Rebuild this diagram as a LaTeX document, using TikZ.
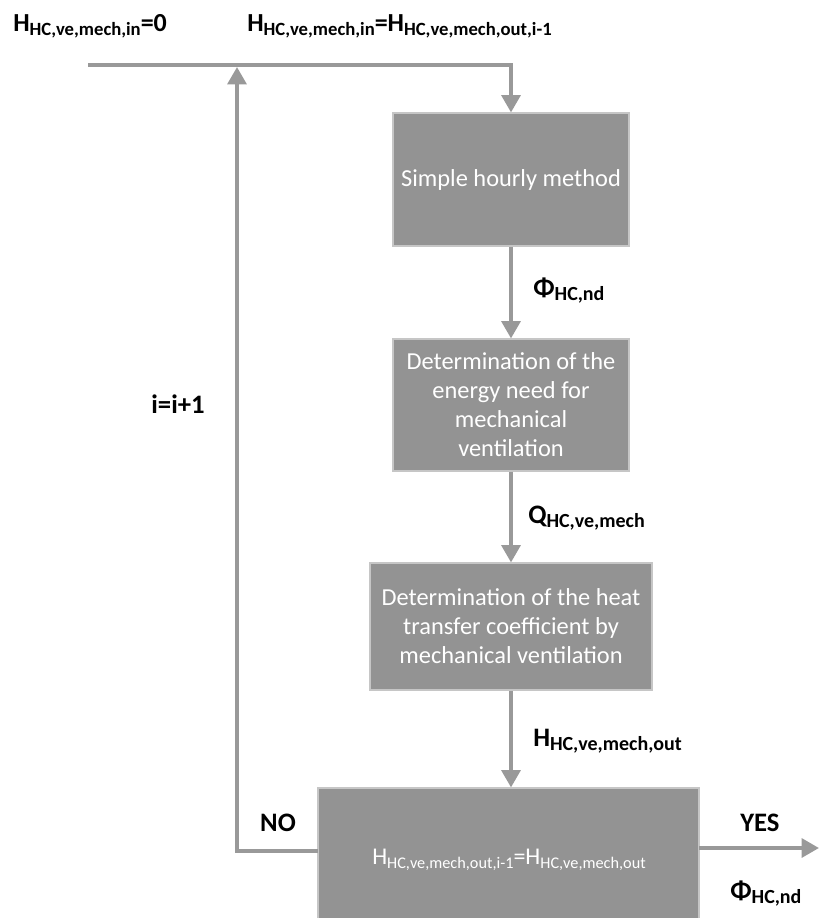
\documentclass[tikz,border=0pt]{standalone}
\usepackage{fontspec}
\setmainfont{Carlito}
\usetikzlibrary{arrows.meta}
\definecolor{boxfill}{HTML}{939393}
\definecolor{boxedge}{HTML}{C6C6C6}
\definecolor{linegray}{HTML}{999999}
\newcommand{\blab}[2]{{\fontsize{20}{24}\selectfont\bfseries #1}\raisebox{-3pt}{\fontsize{15}{18}\selectfont\bfseries #2}}
\newcommand{\tlab}[2]{{\fontsize{19.5}{24}\selectfont\bfseries #1}\raisebox{-3pt}{\fontsize{14}{17}\selectfont\bfseries #2}}
\newcommand{\rlab}[2]{{\fontsize{18}{22}\selectfont #1}\raisebox{-3pt}{\fontsize{12.2}{15}\selectfont #2}}
\tikzset{
  flowbox/.style={draw=boxedge, line width=0.8pt, fill=boxfill, text=white, align=center,
    font=\fontsize{18.3}{21.75}\selectfont, inner sep=0pt},
  conn/.style={draw=linegray, line width=3pt},
  arr/.style={conn, -{Triangle[width=14pt,length=13pt]}},
  lab/.style={inner sep=0pt, anchor=west, text=black},
}
\begin{document}
\begin{tikzpicture}[x=0.75pt, y=-0.75pt]
\useasboundingbox (0,0) rectangle (819,918);
\clip (0,0) rectangle (819,918);
\fill[white] (0,0) rectangle (819,918);

\node[flowbox, minimum width=177pt, minimum height=99.75pt] (b1) at (511,179.5) {Simple hourly method};
\node[flowbox, minimum width=177pt, minimum height=99pt] (b2) at (511,405) {Determination of the\\energy need for\\mechanical\\ventilation};
\node[flowbox, minimum width=211.5pt, minimum height=95.25pt] (b3) at (511,626.5) {Determination of the heat\\transfer coefficient by\\mechanical ventilation};
\node[flowbox, minimum width=285.75pt, minimum height=120pt] (b4) at (508.5,868) {};
\node[inner sep=0pt, text=white] (b4t) at (509,860) {\rlab{H}{HC,ve,mech,out,i-1}\rlab{=H}{HC,ve,mech,out}};

\coordinate (tl) at (88,65);
\coordinate (lc) at (237,851);
\coordinate (loopstart) at (318,851);
\coordinate (yesend) at (819,848);
\coordinate (yesstart) at (699,848);

\draw[arr] (tl) -- (b1.north |- tl) -- (b1.north);
\draw[arr] (b1.south) -- (b2.north);
\draw[arr] (b2.south) -- (b3.north);
\draw[arr] (b3.south) -- (b3.south |- b4.north);
\draw[arr] (loopstart) -- (lc) -- (lc |- 0,67);
\draw[arr] (yesstart) -- (yesend);

\node[lab] (t1) at (13,26) {\tlab{H}{HC,ve,mech,in}{\fontsize{19.5}{24}\selectfont\bfseries =0}};
\node[lab] (t2) at (247,26) {\tlab{H}{HC,ve,mech,in}\tlab{=H}{HC,ve,mech,out,i-1}};
\node[lab] (phi1) at (533,291) {\blab{Φ}{HC,nd}};
\node[lab] (q1) at (528,518) {\blab{Q}{HC,ve,mech}};
\node[lab] (h1) at (533,741) {\blab{H}{HC,ve,mech,out}};
\node[inner sep=0pt] (inc) at (178,404) {\fontsize{20}{24}\selectfont\bfseries i=i+1};
\node[inner sep=0pt] (no) at (278,823) {\fontsize{20}{24}\selectfont\bfseries NO};
\node[lab] (yes) at (740,823) {\fontsize{20}{24}\selectfont\bfseries YES};
\node[lab] (phi2) at (730,894) {\blab{Φ}{HC,nd}};
\end{tikzpicture}
\end{document}
